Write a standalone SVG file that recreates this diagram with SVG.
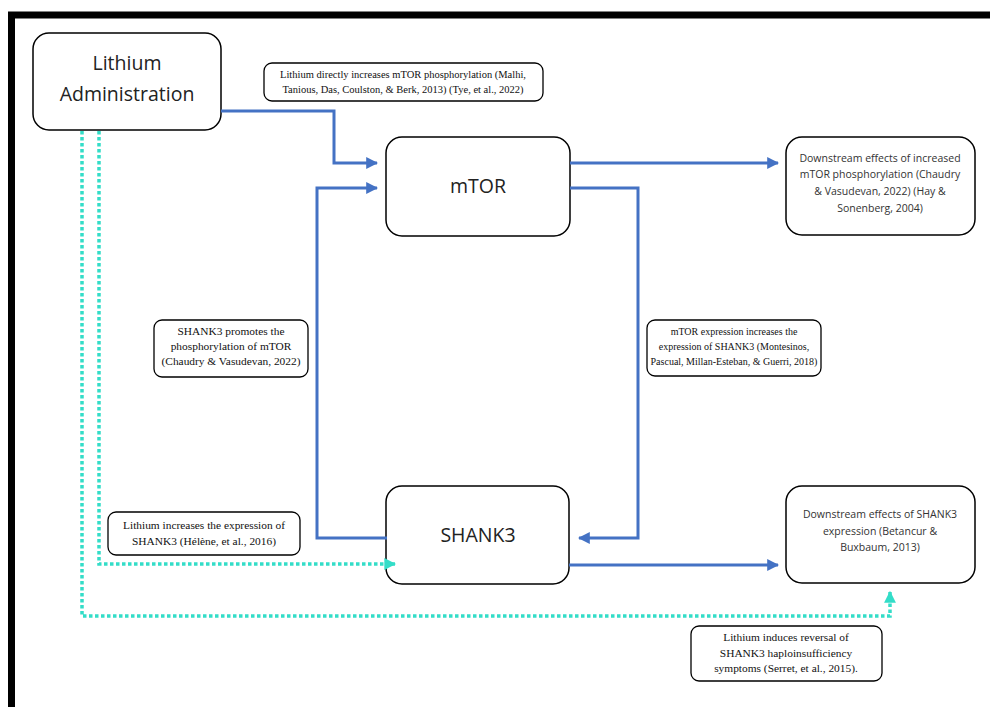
<svg xmlns="http://www.w3.org/2000/svg" width="990" height="707" viewBox="0 0 990 707">
<defs>
<style>
.node{fill:#fff;stroke:#000;stroke-width:1.5}
.lbl{fill:#fff;stroke:#000;stroke-width:1.3}
.big{font-family:"Open Sans","Noto Sans",sans-serif;font-size:19.5px;fill:#222;text-anchor:middle}
.sm{font-family:"Open Sans","Noto Sans",sans-serif;font-size:10.5px;fill:#333;text-anchor:middle}
.tm{font-family:"Liberation Serif","Times New Roman",serif;font-size:10.5px;fill:#111;text-anchor:middle}
.tl{font-size:11.4px}
.blue{fill:none;stroke:#4472C4;stroke-width:3}
.cyan{fill:none;stroke:#33DDC8;stroke-width:3.5;stroke-dasharray:3.5 2.5}
</style>
<marker id="ab" viewBox="0 0 10 10" refX="9" refY="5" markerWidth="4" markerHeight="4" markerUnits="strokeWidth" orient="auto">
<path d="M0,0 L10,5 L0,10 z" fill="#4472C4"/>
</marker>
<marker id="ac" viewBox="0 0 10 10" refX="9" refY="5" markerWidth="3.4" markerHeight="3.4" markerUnits="strokeWidth" orient="auto">
<path d="M0,0 L10,5 L0,10 z" fill="#33DDC8"/>
</marker>
</defs>
<rect width="990" height="707" fill="#fff"/>
<path d="M11.5,707 V15 H990" fill="none" stroke="#000" stroke-width="7"/>

<g id="lithium">
<rect class="node" x="33" y="33" width="188" height="97" rx="16"/>
<text class="big" x="127" y="70">Lithium</text>
<text class="big" x="127" y="101">Administration</text>
</g>
<g id="label-lithium-mtor">
<rect class="lbl" x="264" y="63" width="279" height="38" rx="8"/>
<text class="tm" x="403" y="78">Lithium directly increases mTOR phosphorylation (Malhi,</text>
<text class="tm" x="403" y="93">Tanious, Das, Coulston, &amp; Berk, 2013) (Tye, et al., 2022)</text>
</g>
<g id="mtor">
<rect class="node" x="386" y="137" width="184" height="99" rx="16"/>
<text class="big" x="478" y="193">mTOR</text>
</g>
<g id="mtor-downstream">
<rect class="node" x="786" y="137" width="189" height="98" rx="16"/>
<text class="sm" x="880" y="162">Downstream effects of increased</text>
<text class="sm" x="880" y="178">mTOR phosphorylation (Chaudry</text>
<text class="sm" x="880" y="195">&amp; Vasudevan, 2022) (Hay &amp;</text>
<text class="sm" x="880" y="212">Sonenberg, 2004)</text>
</g>
<g id="label-shank3-mtor">
<rect class="lbl" x="154" y="320" width="154" height="57" rx="8"/>
<text class="tm tl" x="231" y="335">SHANK3 promotes the</text>
<text class="tm tl" x="231" y="350">phosphorylation of mTOR</text>
<text class="tm tl" x="231" y="365">(Chaudry &amp; Vasudevan, 2022)</text>
</g>
<g id="label-mtor-shank3">
<rect class="lbl" x="647" y="320" width="174" height="56" rx="8"/>
<text class="tm" x="734" y="335" style="font-size:10px">mTOR expression increases the</text>
<text class="tm" x="734" y="350" style="font-size:10px">expression of SHANK3 (Montesinos,</text>
<text class="tm" x="734" y="365" style="font-size:10px">Pascual, Millan-Esteban, &amp; Guerri, 2018)</text>
</g>
<g id="shank3">
<rect class="node" x="386" y="486" width="183" height="98" rx="16"/>
<text class="big" x="478" y="542">SHANK3</text>
</g>
<g id="shank3-downstream">
<rect class="node" x="786" y="486" width="189" height="97" rx="16"/>
<text class="sm" x="880" y="518">Downstream effects of SHANK3</text>
<text class="sm" x="880" y="535">expression (Betancur &amp;</text>
<text class="sm" x="880" y="551">Buxbaum, 2013)</text>
</g>
<g id="label-lithium-shank3">
<rect class="lbl" x="108" y="512" width="192" height="43" rx="8"/>
<text class="tm tl" x="204" y="529">Lithium increases the expression of</text>
<text class="tm tl" x="204" y="545">SHANK3 (Hélène, et al., 2016)</text>
</g>
<g id="label-lithium-reversal">
<rect class="lbl" x="691" y="626" width="191" height="55" rx="8"/>
<text class="tm tl" x="786" y="641">Lithium induces reversal of</text>
<text class="tm tl" x="786" y="657">SHANK3 haploinsufficiency</text>
<text class="tm tl" x="786" y="672">symptoms (Serret, et al., 2015).</text>
</g>

<g id="connectors">
<path class="blue" d="M221,111 H334 V163 H377" marker-end="url(#ab)"/>
<path class="blue" d="M387,538 H317 V188 H377" marker-end="url(#ab)"/>
<path class="blue" d="M570,163 H778" marker-end="url(#ab)"/>
<path class="blue" d="M570,188 H638 V538 H579" marker-end="url(#ab)"/>
<path class="blue" d="M569,565 H778" marker-end="url(#ab)"/>
<path class="cyan" d="M99,131 V564 H395" marker-end="url(#ac)"/>
<path class="cyan" d="M82,131 V616 H890 V592" marker-end="url(#ac)"/>
</g>
</svg>
